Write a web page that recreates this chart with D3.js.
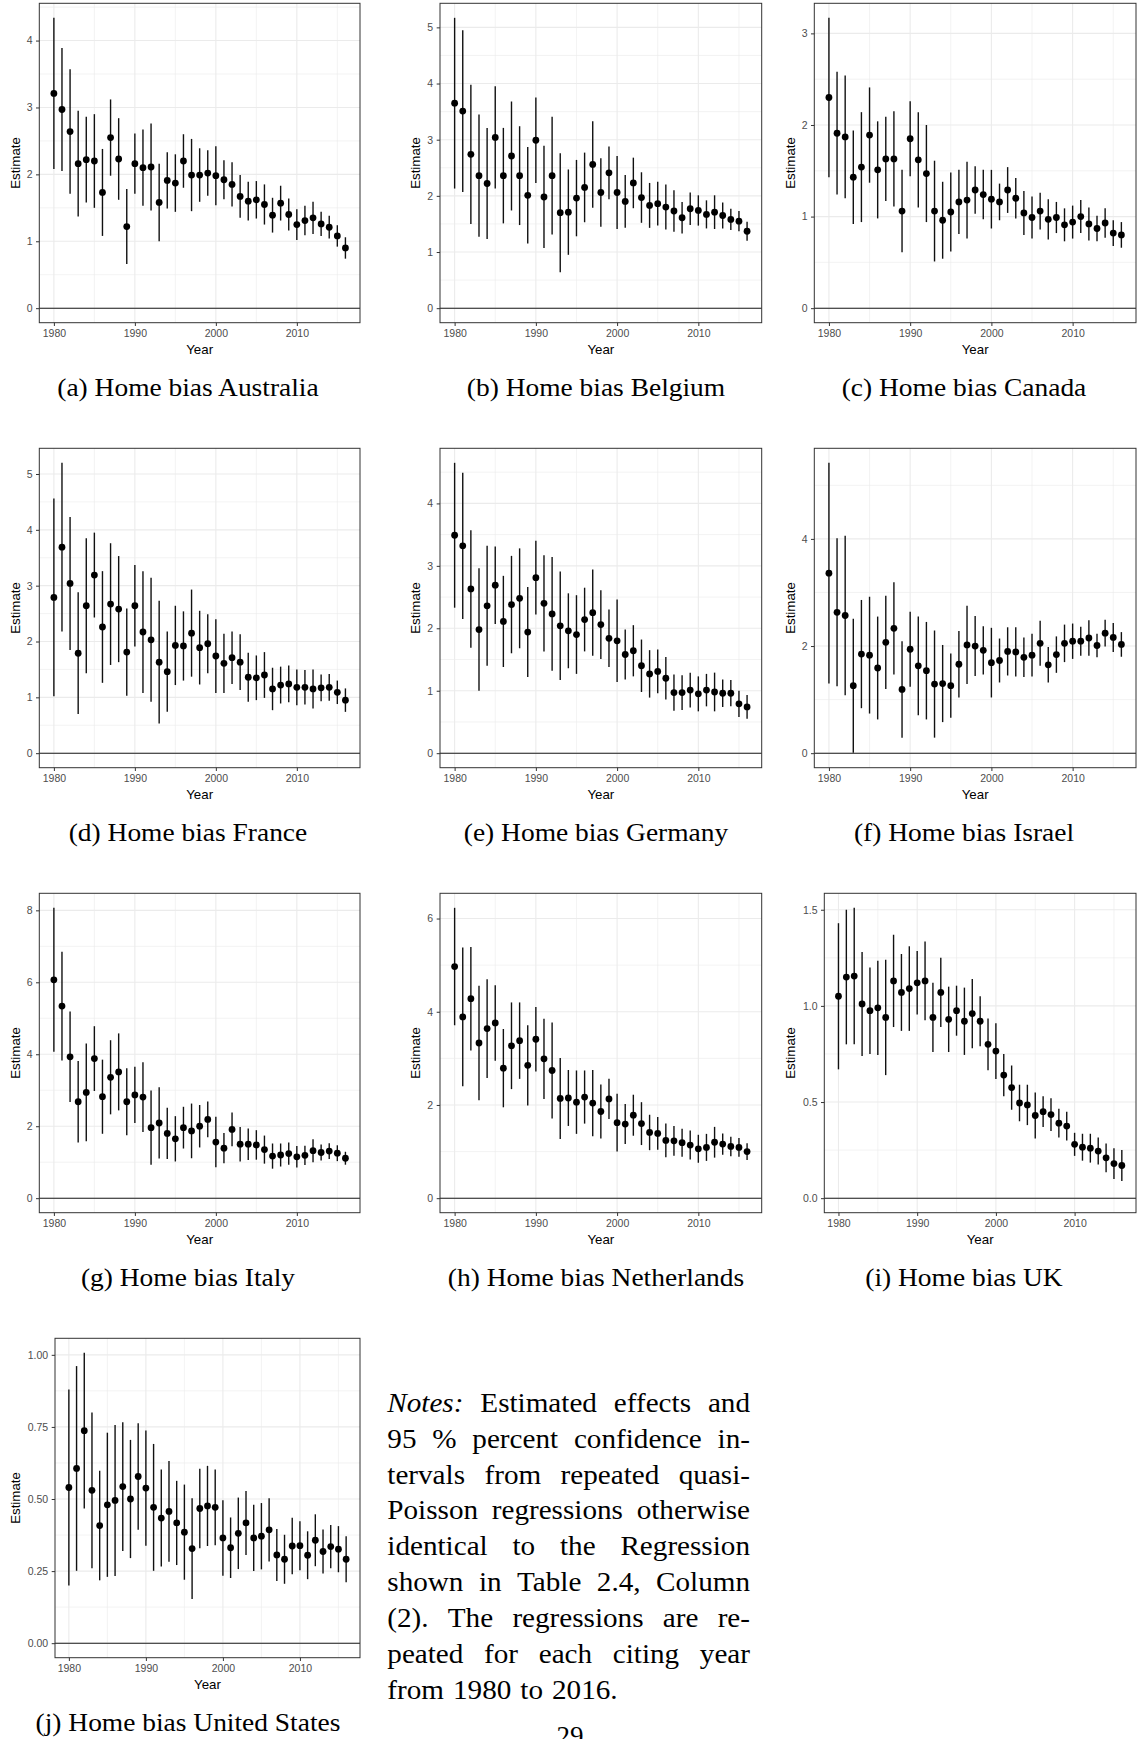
<!DOCTYPE html>
<html>
<head>
<meta charset="utf-8">
<script src="https://cdn.jsdelivr.net/npm/d3@7"></script>
<style>
  body { margin: 0; background: #fff; }
  svg { display: block; }
</style>
</head>
<body>
<script>
// citing years on the x axis
const years = [1980, 1981, 1982, 1983, 1984, 1985, 1986, 1987, 1988, 1989,
  1990, 1991, 1992, 1993, 1994, 1995, 1996, 1997, 1998, 1999,
  2000, 2001, 2002, 2003, 2004, 2005, 2006, 2007, 2008, 2009,
  2010, 2011, 2012, 2013, 2014, 2015, 2016];
const xTicks = [1980, 1990, 2000, 2010];

// estimates and half width of the 95% interval
const australiaEst = [3.21, 2.97, 2.64, 2.16, 2.22, 2.20, 1.73, 2.55, 2.23, 1.22, 2.16, 2.10, 2.11, 1.58, 1.91, 1.87, 2.20, 1.99, 1.99, 2.02, 1.98, 1.92, 1.85, 1.67, 1.60, 1.62, 1.55, 1.39, 1.57, 1.40, 1.25, 1.31, 1.35, 1.26, 1.21, 1.08, 0.90];
const australiaCI = [1.13, 0.92, 0.93, 0.79, 0.64, 0.70, 0.65, 0.57, 0.61, 0.56, 0.45, 0.57, 0.65, 0.58, 0.42, 0.43, 0.40, 0.54, 0.40, 0.34, 0.44, 0.29, 0.33, 0.32, 0.29, 0.28, 0.30, 0.26, 0.26, 0.24, 0.23, 0.22, 0.24, 0.18, 0.17, 0.16, 0.16];

const belgiumEst = [3.65, 3.51, 2.74, 2.36, 2.22, 3.04, 2.36, 2.71, 2.36, 2.01, 2.99, 1.98, 2.36, 1.70, 1.71, 1.96, 2.15, 2.56, 2.06, 2.41, 2.06, 1.90, 2.23, 1.97, 1.83, 1.86, 1.80, 1.73, 1.61, 1.77, 1.74, 1.67, 1.71, 1.65, 1.58, 1.55, 1.37];
const belgiumCI = [1.52, 1.44, 1.24, 1.09, 0.99, 0.91, 0.85, 0.97, 0.88, 0.86, 0.76, 0.91, 1.05, 1.06, 0.76, 0.68, 0.62, 0.77, 0.61, 0.47, 0.65, 0.47, 0.45, 0.45, 0.40, 0.39, 0.40, 0.37, 0.28, 0.29, 0.27, 0.25, 0.30, 0.23, 0.19, 0.18, 0.17];

const canadaEst = [2.30, 1.91, 1.87, 1.43, 1.54, 1.89, 1.51, 1.63, 1.63, 1.06, 1.85, 1.62, 1.47, 1.06, 0.96, 1.05, 1.16, 1.18, 1.29, 1.24, 1.19, 1.16, 1.29, 1.20, 1.04, 0.99, 1.06, 0.97, 0.99, 0.91, 0.94, 1.00, 0.92, 0.87, 0.93, 0.82, 0.80];
const canadaCI = [0.87, 0.67, 0.67, 0.51, 0.60, 0.52, 0.53, 0.46, 0.52, 0.45, 0.41, 0.52, 0.53, 0.55, 0.42, 0.43, 0.35, 0.42, 0.26, 0.27, 0.32, 0.20, 0.25, 0.22, 0.24, 0.23, 0.20, 0.22, 0.17, 0.18, 0.18, 0.18, 0.18, 0.14, 0.16, 0.14, 0.14];

const franceEst = [2.79, 3.69, 3.04, 1.79, 2.64, 3.19, 2.26, 2.67, 2.58, 1.81, 2.64, 2.17, 2.03, 1.63, 1.46, 1.93, 1.92, 2.15, 1.89, 1.96, 1.74, 1.61, 1.71, 1.63, 1.36, 1.35, 1.40, 1.15, 1.22, 1.24, 1.18, 1.18, 1.15, 1.17, 1.18, 1.09, 0.95];
const franceCI = [1.77, 1.51, 1.19, 1.09, 1.21, 0.76, 1.00, 1.09, 0.95, 0.78, 0.73, 1.09, 1.11, 1.10, 0.72, 0.71, 0.62, 0.78, 0.66, 0.53, 0.66, 0.53, 0.47, 0.50, 0.44, 0.40, 0.41, 0.38, 0.33, 0.33, 0.32, 0.31, 0.35, 0.24, 0.24, 0.21, 0.21];

const germanyEst = [3.49, 3.32, 2.63, 1.98, 2.36, 2.69, 2.11, 2.38, 2.48, 1.94, 2.81, 2.40, 2.23, 2.04, 1.96, 1.90, 2.14, 2.25, 2.06, 1.84, 1.80, 1.58, 1.64, 1.40, 1.27, 1.31, 1.20, 0.97, 0.97, 1.01, 0.95, 1.01, 0.98, 0.96, 0.96, 0.79, 0.74];
const germanyCI = [1.16, 1.17, 0.94, 0.98, 0.96, 0.62, 0.73, 0.78, 0.80, 0.72, 0.59, 0.77, 0.91, 0.87, 0.60, 0.63, 0.51, 0.69, 0.55, 0.46, 0.66, 0.40, 0.41, 0.42, 0.38, 0.35, 0.34, 0.29, 0.28, 0.28, 0.28, 0.26, 0.31, 0.22, 0.21, 0.21, 0.19];

const israelEst = [3.36, 2.63, 2.57, 1.26, 1.85, 1.83, 1.59, 2.07, 2.33, 1.19, 1.94, 1.63, 1.54, 1.29, 1.30, 1.26, 1.66, 2.02, 2.00, 1.92, 1.69, 1.73, 1.90, 1.89, 1.79, 1.83, 2.05, 1.65, 1.84, 2.05, 2.09, 2.09, 2.15, 2.01, 2.24, 2.16, 2.03];
const israelCI = [2.06, 1.38, 1.49, 1.25, 1.01, 1.09, 0.96, 0.87, 0.86, 0.90, 0.70, 0.92, 0.91, 1.00, 0.72, 0.60, 0.62, 0.73, 0.56, 0.45, 0.65, 0.41, 0.45, 0.46, 0.37, 0.40, 0.42, 0.33, 0.34, 0.35, 0.33, 0.27, 0.33, 0.22, 0.25, 0.27, 0.23];

const italyEst = [6.07, 5.34, 3.93, 2.68, 2.94, 3.88, 2.82, 3.36, 3.51, 2.68, 2.87, 2.81, 1.96, 2.09, 1.80, 1.65, 1.96, 1.87, 2.00, 2.19, 1.56, 1.39, 1.91, 1.50, 1.50, 1.48, 1.35, 1.17, 1.20, 1.24, 1.15, 1.19, 1.32, 1.27, 1.31, 1.25, 1.11];
const italyCI = [2.00, 1.51, 1.26, 1.13, 1.36, 0.90, 1.03, 1.03, 1.07, 0.93, 0.78, 0.97, 1.03, 0.99, 0.71, 0.63, 0.58, 0.76, 0.59, 0.50, 0.70, 0.42, 0.47, 0.48, 0.44, 0.41, 0.39, 0.35, 0.32, 0.31, 0.30, 0.27, 0.32, 0.22, 0.22, 0.22, 0.18];

const netherlandsEst = [4.97, 3.89, 4.28, 3.33, 3.64, 3.76, 2.79, 3.27, 3.38, 2.85, 3.41, 2.99, 2.74, 2.14, 2.15, 2.06, 2.17, 2.04, 1.86, 2.13, 1.62, 1.59, 1.78, 1.60, 1.41, 1.39, 1.24, 1.23, 1.19, 1.14, 1.06, 1.09, 1.20, 1.16, 1.11, 1.09, 1.00];
const netherlandsCI = [1.26, 1.49, 1.11, 1.23, 1.06, 0.81, 0.84, 0.93, 0.82, 0.86, 0.69, 0.86, 1.03, 0.87, 0.60, 0.68, 0.57, 0.71, 0.58, 0.43, 0.62, 0.43, 0.44, 0.46, 0.38, 0.35, 0.36, 0.32, 0.30, 0.31, 0.30, 0.29, 0.33, 0.23, 0.21, 0.20, 0.18];

const ukEst = [1.05, 1.15, 1.155, 1.01, 0.975, 0.99, 0.94, 1.13, 1.07, 1.09, 1.12, 1.13, 0.94, 1.07, 0.93, 0.975, 0.92, 0.96, 0.92, 0.80, 0.765, 0.64, 0.575, 0.495, 0.485, 0.43, 0.45, 0.435, 0.39, 0.375, 0.28, 0.265, 0.26, 0.245, 0.21, 0.18, 0.17];
const ukCI = [0.38, 0.35, 0.355, 0.27, 0.225, 0.245, 0.30, 0.24, 0.20, 0.22, 0.165, 0.205, 0.18, 0.18, 0.17, 0.13, 0.175, 0.18, 0.13, 0.135, 0.145, 0.11, 0.115, 0.095, 0.105, 0.12, 0.08, 0.085, 0.075, 0.075, 0.06, 0.07, 0.075, 0.07, 0.075, 0.08, 0.08];

const usEst = [0.54, 0.606, 0.737, 0.53, 0.408, 0.48, 0.495, 0.543, 0.50, 0.578, 0.538, 0.471, 0.434, 0.457, 0.417, 0.385, 0.328, 0.467, 0.476, 0.471, 0.365, 0.331, 0.381, 0.417, 0.365, 0.371, 0.393, 0.306, 0.291, 0.337, 0.338, 0.305, 0.357, 0.318, 0.335, 0.326, 0.291];
const usCI = [0.34, 0.355, 0.27, 0.27, 0.19, 0.25, 0.262, 0.223, 0.205, 0.185, 0.20, 0.22, 0.168, 0.175, 0.146, 0.165, 0.175, 0.138, 0.139, 0.131, 0.131, 0.105, 0.124, 0.111, 0.115, 0.115, 0.11, 0.09, 0.085, 0.098, 0.085, 0.083, 0.09, 0.076, 0.075, 0.08, 0.08];

// y tick labels of each panel
const ticksAustralia = [0, 1, 2, 3, 4];
const ticksBelgium = [0, 1, 2, 3, 4, 5];
const ticksCanada = [0, 1, 2, 3];
const ticksFrance = [0, 1, 2, 3, 4, 5];
const ticksGermany = [0, 1, 2, 3, 4];
const ticksIsrael = [0, 2, 4];
const ticksItaly = [0, 2, 4, 6, 8];
const ticksNetherlands = [0, 2, 4, 6];
const ticksUK = [0, 0.5, 1.0, 1.5];
const ticksUS = [0, 0.25, 0.5, 0.75, 1.0];

const captions = ["(a) Home bias Australia", "(b) Home bias Belgium", "(c) Home bias Canada",
  "(d) Home bias France", "(e) Home bias Germany", "(f) Home bias Israel",
  "(g) Home bias Italy", "(h) Home bias Netherlands", "(i) Home bias UK",
  "(j) Home bias United States"];

const notesLines = [
  "Notes: Estimated effects and",
  "95 % percent confidence in-",
  "tervals from repeated quasi-",
  "Poisson regressions otherwise",
  "identical to the Regression",
  "shown in Table 2.4, Column",
  "(2). The regressions are re-",
  "peated for each citing year",
  "from 1980 to 2016."
];

const panels = [
  { est: australiaEst, ci: australiaCI, ticks: ticksAustralia, fmt: d3.format("d") },
  { est: belgiumEst, ci: belgiumCI, ticks: ticksBelgium, fmt: d3.format("d") },
  { est: canadaEst, ci: canadaCI, ticks: ticksCanada, fmt: d3.format("d") },
  { est: franceEst, ci: franceCI, ticks: ticksFrance, fmt: d3.format("d") },
  { est: germanyEst, ci: germanyCI, ticks: ticksGermany, fmt: d3.format("d") },
  { est: israelEst, ci: israelCI, ticks: ticksIsrael, fmt: d3.format("d") },
  { est: italyEst, ci: italyCI, ticks: ticksItaly, fmt: d3.format("d") },
  { est: netherlandsEst, ci: netherlandsCI, ticks: ticksNetherlands, fmt: d3.format("d") },
  { est: ukEst, ci: ukCI, ticks: ticksUK, fmt: d3.format(".1f") },
  { est: usEst, ci: usCI, ticks: ticksUS, fmt: d3.format(".2f") }
];

// page layout
const W = 1137, H = 1739;
const colRight = [360, 761.7, 1136];
const colTitleX = [15, 415, 790];
const captionX = [188, 596, 964];
const rowTop = [3.3, 448.3, 893.3, 1338.3];
const plotH = 319.4;
const panelLeft = [39.3, 440, 814.3, 39.3, 440, 814.3, 39.3, 440, 824.3, 55];

const svg = d3.select("body").append("svg")
  .attr("width", W)
  .attr("height", H)
  .attr("viewBox", "0 0 " + W + " " + H);

svg.append("rect").attr("width", W).attr("height", H).attr("fill", "#fff");

panels.forEach(function (p, i) {
  const col = i % 3, row = Math.floor(i / 3);
  const left = panelLeft[i], right = colRight[col];
  const top = rowTop[row], bottom = top + plotH;

  const lo = p.est.map(function (d, k) { return d - p.ci[k]; });
  const hi = p.est.map(function (d, k) { return d + p.ci[k]; });

  // ggplot style 5% expansion (hline at 0 trains the scale too)
  const yMin = Math.min(0, d3.min(lo)), yMax = Math.max(0, d3.max(hi));
  const yPad = (yMax - yMin) * 0.05;
  const y = d3.scaleLinear().domain([yMin - yPad, yMax + yPad]).range([bottom, top]);
  const xPad = (d3.max(years) - d3.min(years)) * 0.05;
  const x = d3.scaleLinear().domain([d3.min(years) - xPad, d3.max(years) + xPad]).range([left, right]);

  const g = svg.append("g");

  // minor grid
  const yStep = p.ticks[1] - p.ticks[0];
  const yMinor = [];
  for (let v = p.ticks[0] - yStep / 2; v <= y.domain()[1]; v += yStep) {
    if (v >= y.domain()[0]) yMinor.push(v);
  }
  const xMinor = [1975, 1985, 1995, 2005, 2015, 2025].filter(function (v) {
    return v >= x.domain()[0] && v <= x.domain()[1];
  });

  g.selectAll(".yminor").data(yMinor).enter().append("line")
    .attr("x1", left).attr("x2", right)
    .attr("y1", function (d) { return y(d); }).attr("y2", function (d) { return y(d); })
    .attr("stroke", "#ebebeb").attr("stroke-width", 0.6);
  g.selectAll(".xminor").data(xMinor).enter().append("line")
    .attr("y1", top).attr("y2", bottom)
    .attr("x1", function (d) { return x(d); }).attr("x2", function (d) { return x(d); })
    .attr("stroke", "#ebebeb").attr("stroke-width", 0.6);

  // major grid
  g.selectAll(".ymajor").data(p.ticks).enter().append("line")
    .attr("x1", left).attr("x2", right)
    .attr("y1", function (d) { return y(d); }).attr("y2", function (d) { return y(d); })
    .attr("stroke", "#ebebeb").attr("stroke-width", 1.1);
  g.selectAll(".xmajor").data(xTicks).enter().append("line")
    .attr("y1", top).attr("y2", bottom)
    .attr("x1", function (d) { return x(d); }).attr("x2", function (d) { return x(d); })
    .attr("stroke", "#ebebeb").attr("stroke-width", 1.1);

  // zero line
  g.append("line")
    .attr("x1", left).attr("x2", right)
    .attr("y1", y(0)).attr("y2", y(0))
    .attr("stroke", "#1a1a1a").attr("stroke-width", 1.1);

  // intervals and points
  g.selectAll(".bar").data(years).enter().append("line")
    .attr("x1", function (d) { return x(d); }).attr("x2", function (d) { return x(d); })
    .attr("y1", function (d, k) { return y(lo[k]); })
    .attr("y2", function (d, k) { return y(hi[k]); })
    .attr("stroke", "#111").attr("stroke-width", 1.4);
  g.selectAll(".pt").data(years).enter().append("circle")
    .attr("cx", function (d) { return x(d); })
    .attr("cy", function (d, k) { return y(p.est[k]); })
    .attr("r", 3.4)
    .attr("fill", "#000");

  // panel border
  g.append("rect")
    .attr("x", left).attr("y", top)
    .attr("width", right - left).attr("height", plotH)
    .attr("fill", "none").attr("stroke", "#333").attr("stroke-width", 1);

  // axes
  const yAxis = g.append("g").attr("transform", "translate(" + left + ",0)")
    .call(d3.axisLeft(y).tickValues(p.ticks).tickFormat(p.fmt).tickSize(3.3).tickPadding(3.5));
  const xAxis = g.append("g").attr("transform", "translate(0," + bottom + ")")
    .call(d3.axisBottom(x).tickValues(xTicks).tickFormat(d3.format("d")).tickSize(3.3).tickPadding(3.5));
  [yAxis, xAxis].forEach(function (a) {
    a.select(".domain").remove();
    a.selectAll(".tick line").attr("stroke", "#333").attr("stroke-width", 1);
    a.selectAll(".tick text")
      .attr("fill", "#4d4d4d")
      .style("font-family", "'Liberation Sans', Arial, sans-serif")
      .style("font-size", "10.5px");
  });

  // axis titles
  g.append("text")
    .attr("x", (left + right) / 2).attr("y", bottom + 31)
    .attr("text-anchor", "middle")
    .style("font-family", "'Liberation Sans', Arial, sans-serif")
    .style("font-size", "13.3px")
    .text("Year");
  g.append("text")
    .attr("transform", "translate(" + colTitleX[col] + "," + (top + bottom) / 2 + ") rotate(-90)")
    .attr("dy", "0.35em")
    .attr("text-anchor", "middle")
    .style("font-family", "'Liberation Sans', Arial, sans-serif")
    .style("font-size", "13.3px")
    .text("Estimate");

  // sub caption
  const cap = g.append("text")
    .attr("x", captionX[col]).attr("y", bottom + 73.3)
    .attr("text-anchor", "middle")
    .style("font-family", "'Liberation Serif', 'Times New Roman', serif")
    .style("font-size", "24.5px")
    .text(captions[i]);
  const cw = cap.node().getComputedTextLength();
  cap.attr("textLength", cw * 1.12).attr("lengthAdjust", "spacingAndGlyphs");
});

// justified notes block
const notesLeft = 387.3, notesRight = 750, notesTop = 1411.7, notesLead = 35.9;
const notesSize = 27, wordStretch = 1.08;
const notes = svg.append("g")
  .style("font-family", "'Liberation Serif', 'Times New Roman', serif")
  .style("font-size", notesSize + "px");

notesLines.forEach(function (line, li) {
  const words = line.split(" ");
  const yb = notesTop + li * notesLead;
  const nodes = words.map(function (w, wi) {
    return notes.append("text")
      .style("font-style", (li === 0 && wi === 0) ? "italic" : "normal")
      .text(w);
  });
  const widths = nodes.map(function (n) { return n.node().getComputedTextLength() * wordStretch; });
  const last = li === notesLines.length - 1;
  const gap = last ? 0.333 * notesSize : (notesRight - notesLeft - d3.sum(widths)) / (words.length - 1);
  let xx = notesLeft;
  nodes.forEach(function (n, k) {
    n.attr("transform", "translate(" + xx + "," + yb + ") scale(" + wordStretch + ",1)");
    xx += widths[k] + gap;
  });
});

// page number, cut by the bottom edge as in the scanned page
svg.append("text")
  .attr("x", 570).attr("y", 1745)
  .attr("text-anchor", "middle")
  .style("font-family", "'Liberation Serif', 'Times New Roman', serif")
  .style("font-size", "27px")
  .text("29");
</script>
</body>
</html>
